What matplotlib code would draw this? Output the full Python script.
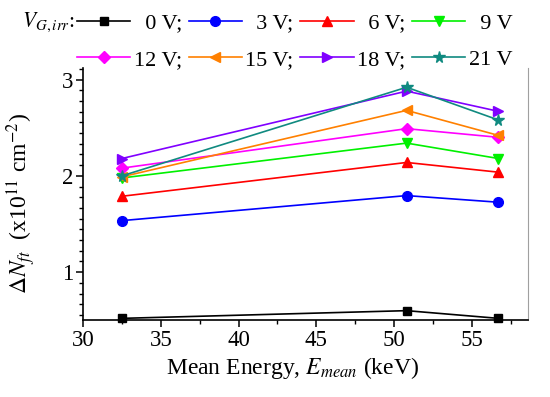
import matplotlib
matplotlib.use("Agg")
import matplotlib.pyplot as plt
from matplotlib.ticker import MultipleLocator, AutoMinorLocator
import numpy as np

plt.rcParams['font.family'] = ['Liberation Serif', 'DejaVu Serif']
plt.rcParams['mathtext.fontset'] = 'stix'

# mean energy (keV)
energy = [32.5, 50.8, 56.7]

# gate voltage during irradiation
v_labels = ['  0 V;', '  3 V;', '  6 V;', '  9 V', '12 V;', '15 V;', '18 V;', '21 V']

# delta N_ft (x10^11 cm^-2)
n_0v = [0.52, 0.60, 0.52]
n_3v = [1.535, 1.795, 1.726]
n_6v = [1.788, 2.139, 2.038]
n_9v = [1.978, 2.34, 2.18]
n_12v = [2.08, 2.49, 2.40]
n_15v = [1.99, 2.68, 2.42]
n_18v = [2.18, 2.88, 2.67]
n_21v = [2.00, 2.92, 2.58]

series = [n_0v, n_3v, n_6v, n_9v, n_12v, n_15v, n_18v, n_21v]
colors = ['#000000', '#0000ff', '#ff0000', '#00f000', '#ff00ff', '#ff8000', '#8000ff', '#108a80']
markers = ['s', 'o', '^', 'v', 'D', '<', '>', '*']
msizes = [6, 7, 7.5, 7.5, 6.5, 7.5, 7.5, 8.5]

fig = plt.figure(figsize=(5.5, 3.97), dpi=100)
ax = fig.add_axes([83/550, 1 - 320/397, 445/550, 252/397])

handles = []
for ys, c, m, ms, lab in zip(series, colors, markers, msizes, v_labels):
    h, = ax.plot(energy, ys, color=c, marker=m, markersize=ms, lw=1.2,
                 label=lab, clip_on=False, zorder=3)
    handles.append(h)

ax.set_xlim(30, 58.6)
ax.set_ylim(0.503, 3.12)
ax.xaxis.set_major_locator(MultipleLocator(5))
ax.xaxis.set_minor_locator(AutoMinorLocator(2))
ax.yaxis.set_major_locator(MultipleLocator(1))
ax.yaxis.set_minor_locator(AutoMinorLocator(9))
ax.tick_params(which='major', direction='out', length=5, width=1.1, labelsize=16.5, pad=2)
ax.tick_params(which='minor', direction='out', length=3, width=1.0)

ax.spines['top'].set_visible(False)
ax.spines['right'].set_color('#a0a0a0')
for s in ['left', 'bottom']:
    ax.spines[s].set_linewidth(1.2)

ax.set_xlabel(r'Mean Energy, $E_{mean}$ (keV)', fontsize=17)
ax.xaxis.set_label_coords(0.472, -0.138)
ax.set_ylabel(r'$\Delta N_{ft}$  (x10$^{11}$ cm$^{-2}$)', fontsize=17)
ax.yaxis.set_label_coords(-0.10, 0.464)

# legend, row by row
order = [0, 4, 1, 5, 2, 6, 3, 7]
fig.legend([handles[i] for i in order], [v_labels[i] for i in order],
           ncol=4, loc='upper left', bbox_to_anchor=(77/550, 1 - 13/397),
           frameon=False, fontsize=16, borderpad=0, borderaxespad=0,
           handlelength=2.4, handletextpad=0.15, columnspacing=0.3,
           labelspacing=0.72)
fig.text(75/550, 1 - 22/397, r'$V_{G,irr}$:', ha='right', va='center', fontsize=15.5)

fig.savefig('out.png', dpi=100)
